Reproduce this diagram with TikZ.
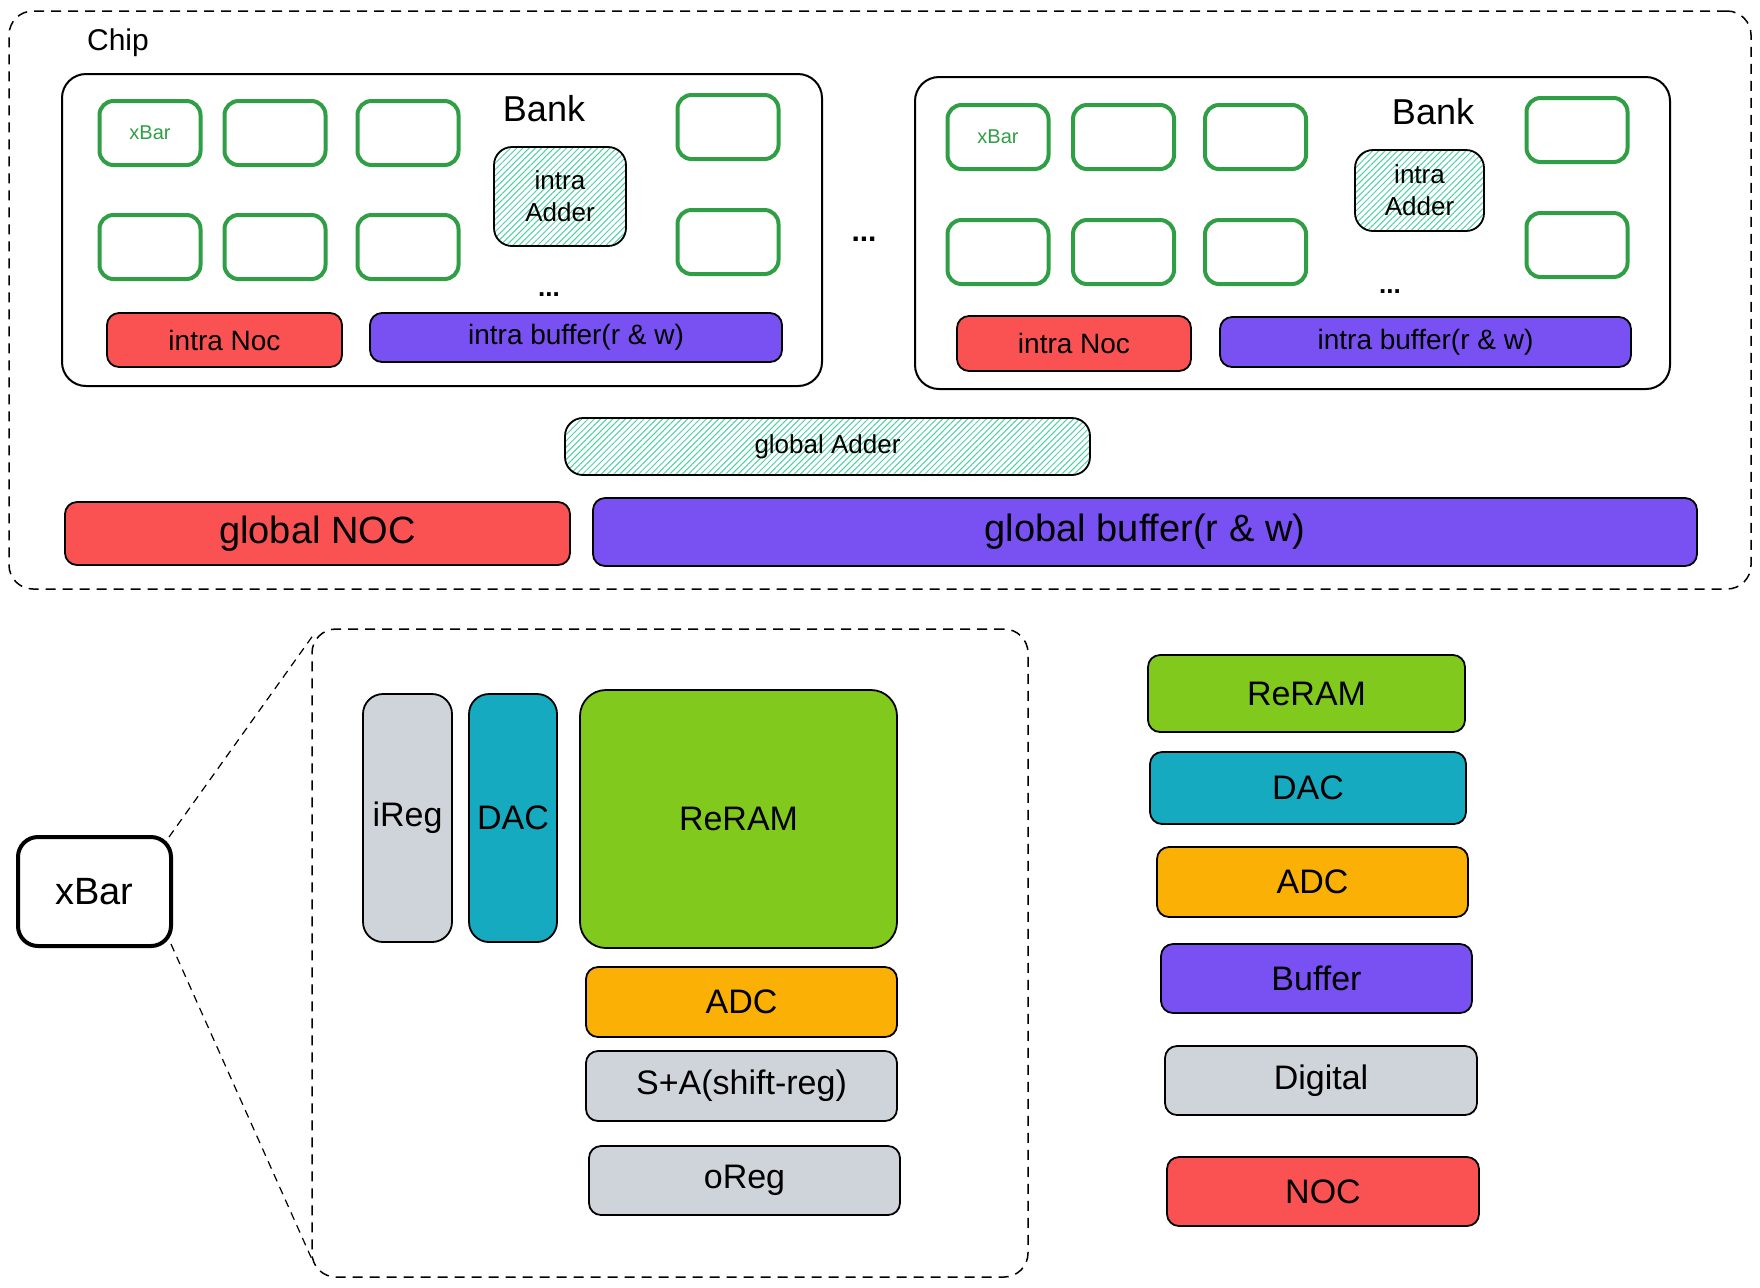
\documentclass[tikz,border=0pt]{standalone}
\usepackage{fontspec}
\setmainfont{Liberation Sans}
\usetikzlibrary{patterns.meta}

\definecolor{xgreen}{HTML}{2F9E44}
\definecolor{noc}{HTML}{FA5252}
\definecolor{buf}{HTML}{7950F2}
\definecolor{reram}{HTML}{82C91E}
\definecolor{dac}{HTML}{15AABF}
\definecolor{adc}{HTML}{FAB005}
\definecolor{digital}{HTML}{CED4DA}
\definecolor{hatch}{HTML}{4FCFA6}

\begin{document}
\begin{tikzpicture}[x=0.5pt, y=-0.5pt, align=center,
	frame/.style={draw, dash pattern=on 5pt off 3.5pt, line width=0.75pt, rounded corners=12pt, inner sep=0pt},
	link/.style={dash pattern=on 4pt off 3pt, line width=0.6pt},
	bank/.style={draw, line width=1pt, rounded corners=12pt, minimum height=156pt, inner sep=0pt},
	cell/.style={draw=xgreen, line width=2pt, rounded corners=7pt, minimum width=50.5pt, minimum height=32pt, inner sep=0pt, text=xgreen, font=\fontsize{10}{12}\selectfont},
	part/.style={draw, line width=0.9pt, rounded corners=6pt, inner sep=0pt, font=\fontsize{17}{19}\selectfont},
	adder/.style={part, rounded corners=9pt, pattern={Lines[angle=45, distance=2.2pt, line width=0.5pt]}, pattern color=hatch},
	smalltext/.style={font=\fontsize{14}{16}\selectfont},
	bigtext/.style={font=\fontsize{19}{21}\selectfont},
	dots/.style={font=\fontsize{13}{15}\selectfont\bfseries}]

\useasboundingbox (0,0) rectangle (1760,1287);

% chip
\path (880,300) node[frame, minimum width=871pt, minimum height=289pt] (chip) {}
	  (118,43) node[font=\fontsize{15}{17}\selectfont] (chiplbl) {Chip};

% left bank
\path (442,230) node[bank, minimum width=380pt] (bank0) {}
	  (544,109) node[font=\fontsize{18}{20}\selectfont] (bank0lbl) {Bank}
	  (150,133) node[cell] (c01) {xBar}
	  (275,133) node[cell] (c02) {}
	  (408,133) node[cell] (c03) {}
	  (728,127) node[cell] (c04) {}
	  (150,247) node[cell] (c05) {}
	  (275,247) node[cell] (c06) {}
	  (408,247) node[cell] (c07) {}
	  (728,242) node[cell] (c08) {}
	  (560,196.5) node[adder, minimum width=66pt, minimum height=49.5pt, font=\fontsize{13}{16}\selectfont] (add0) {intra\\Adder}
	  (549,295) node[dots] (dots0) {...}
	  (224.5,340) node[part, smalltext, fill=noc, minimum width=117.5pt, minimum height=27pt] (noc0) {intra Noc}
	  (576,337.5) node[part, smalltext, fill=buf, minimum width=206pt, minimum height=24.5pt] (buf0) {intra buffer(r \& w)};

% right bank
\path (1292.5,233) node[bank, minimum width=377.5pt] (bank1) {}
	  (1433,112) node[font=\fontsize{18}{20}\selectfont] (bank1lbl) {Bank}
	  (998,137) node[cell] (c11) {xBar}
	  (1123.5,137) node[cell] (c12) {}
	  (1255.5,137) node[cell] (c13) {}
	  (1577,130) node[cell] (c14) {}
	  (998,252) node[cell] (c15) {}
	  (1123.5,252) node[cell] (c16) {}
	  (1255.5,252) node[cell] (c17) {}
	  (1577,245) node[cell] (c18) {}
	  (1419.5,190.5) node[adder, minimum width=64.5pt, minimum height=40.5pt, font=\fontsize{13}{16}\selectfont] (add1) {intra\\Adder}
	  (1390,292) node[dots] (dots1) {...}
	  (1074,343.5) node[part, smalltext, fill=noc, minimum width=117pt, minimum height=27.5pt] (noc1) {intra Noc}
	  (1425.5,342) node[part, smalltext, fill=buf, minimum width=205.5pt, minimum height=25pt] (buf1) {intra buffer(r \& w)};

\path (864,239) node[dots, font=\fontsize{15}{17}\selectfont\bfseries] (dotsmid) {...};

% global parts
\path (827.5,446.5) node[adder, minimum width=262.5pt, minimum height=28.5pt, font=\fontsize{13}{15}\selectfont] (gadd) {global Adder}
	  (317.5,533.5) node[part, bigtext, fill=noc, minimum width=252.5pt, minimum height=31.5pt] (gnoc) {global NOC}
	  (1145,532) node[part, bigtext, fill=buf, minimum width=552pt, minimum height=34pt] (gbuf) {global buffer(r \& w)};

% xbar detail
\path (94.5,891.5) node[draw, bigtext, line width=2pt, rounded corners=10pt, minimum width=76.5pt, minimum height=54.5pt] (xbar) {xBar}
	  (670,953) node[frame, minimum width=358pt, minimum height=324pt] (detail) {}
	  (407.5,818) node[part, fill=digital, rounded corners=10pt, minimum width=44.5pt, minimum height=124pt] (ireg) {iReg}
	  (513,818) node[part, fill=dac, rounded corners=10pt, minimum width=44pt, minimum height=124pt] (dac) {DAC}
	  (738.5,819) node[part, fill=reram, rounded corners=13pt, minimum width=158.5pt, minimum height=129pt] (reram) {ReRAM}
	  (741.5,1002) node[part, fill=adc, minimum width=155.5pt, minimum height=35pt] (adc) {ADC}
	  (741.5,1086) node[part, fill=digital, minimum width=155.5pt, minimum height=35pt] (sa) {S+A(shift-reg)}
	  (744.5,1180.5) node[part, fill=digital, minimum width=155.5pt, minimum height=34.5pt] (oreg) {oReg};

\draw[link] ([xshift=-2pt, yshift=-1pt]xbar.north east) -- ([xshift=2pt, yshift=-2pt]detail.north west);
\draw[link] ([xshift=-1pt, yshift=2pt]xbar.south east) -- ([yshift=10pt]detail.south west);

% legend
\path (1306.5,693.5) node[part, fill=reram, minimum width=158.5pt, minimum height=38.5pt] (lreram) {ReRAM}
	  (1308,788) node[part, fill=dac, minimum width=158pt, minimum height=36pt] (ldac) {DAC}
	  (1312.5,882) node[part, fill=adc, minimum width=155.5pt, minimum height=35pt] (ladc) {ADC}
	  (1316.5,978.5) node[part, fill=buf, minimum width=155.5pt, minimum height=34.5pt] (lbuf) {Buffer}
	  (1321,1080.5) node[part, fill=digital, minimum width=156pt, minimum height=34.5pt] (ldig) {Digital}
	  (1323,1191.5) node[part, fill=noc, minimum width=156pt, minimum height=34.5pt] (lnoc) {NOC};
\end{tikzpicture}
\end{document}
